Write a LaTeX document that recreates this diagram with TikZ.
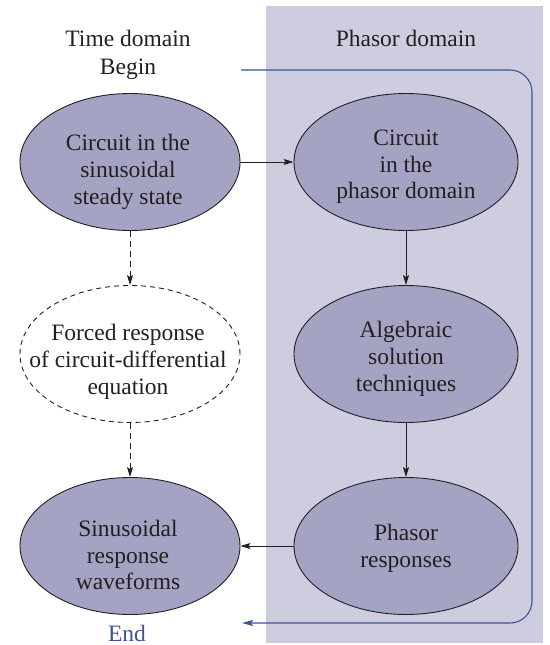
\documentclass[tikz,border=0pt]{standalone}
\usepackage{fontspec}
\setmainfont{Liberation Serif}
\newfontfamily\tnr{Liberation Serif}
\usetikzlibrary{arrows.meta,shapes.geometric}
\definecolor{ellfill}{RGB}{165,163,196}
\definecolor{bgshade}{RGB}{206,205,224}
\definecolor{bluel}{RGB}{62,82,152}
\definecolor{ink}{RGB}{35,31,32}
\begin{document}
\begin{tikzpicture}[x=1pt,y=-1pt,
  every node/.style={font=\tnr\fontsize{23.5}{26.7}\selectfont, text=ink},
  ell/.style={ellipse, draw=ink, line width=0.9pt, fill=ellfill, inner sep=0pt,
    minimum width=#1, minimum height=137pt},
  dell/.style={ellipse, draw=ink, line width=0.9pt, dash pattern=on 5pt off 4pt,
    inner sep=0pt, minimum width=#1, minimum height=137pt},
  txt/.style={align=center, inner sep=0pt},
  arr/.style={draw=ink, line width=0.9pt, -{Stealth[length=10pt,width=6pt,inset=2pt]}},
  darr/.style={arr, dash pattern=on 6pt off 4pt},
  barr/.style={draw=bluel, line width=1.1pt, rounded corners=22pt,
    -{Stealth[length=11pt,width=6pt,inset=2pt]}}
]
\useasboundingbox (0,0) rectangle (549,645);
\fill[bgshade] (266,6) rectangle (543,643);

\node (tdom) at (128,38) {Time domain};
\node (begin) at (128,69) {Begin};
\node (pdom) at (406,38) {Phasor domain};
\node[text=bluel] (end) at (127,633) {End};

\node[ell=220pt] (e1) at (130,162) {};
\node[ell=224pt] (e2) at (406,162) {};
\node[ell=224pt] (e3) at (406,354) {};
\node[ell=224pt] (e4) at (406,546) {};
\node[dell=220pt] (e5) at (130,354) {};
\node[ell=220pt] (e6) at (130,546) {};

\node[txt] (t1) at (128,172) {Circuit in the\\sinusoidal\\steady state};
\node[txt] (t2) at (406,167) {Circuit\\in the\\phasor domain};
\node[txt] (t3) at (406,359) {Algebraic\\solution\\techniques};
\node[txt] (t4) at (406,548) {Phasor\\responses};
\node[txt] (t5) at (128,362) {Forced response\\of circuit-differential\\equation};
\node[txt] (t6) at (128,555) {Sinusoidal\\response\\waveforms};

\draw[arr] (e1) -- (e2);
\draw[arr] (e2) -- (e3);
\draw[arr] (e3) -- (e4);
\draw[arr] (e4) -- (e6);
\draw[darr] (e1) -- (e5);
\draw[darr] (e5) -- (e6);

\coordinate (bs) at (241,70);
\coordinate (be) at (242,623);
\draw[barr] (bs) -- (532,70) -- (532,623) -- (be);
\end{tikzpicture}
\end{document}
